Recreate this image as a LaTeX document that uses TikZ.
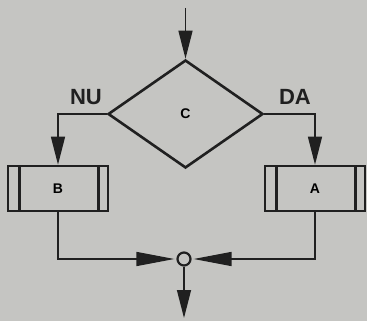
\documentclass[tikz,border=0pt]{standalone}
\usepackage{fontspec}
\setmainfont{Liberation Sans}
\usetikzlibrary{arrows.meta,shapes.geometric,positioning}
\definecolor{paper}{RGB}{197,197,194}
\definecolor{ink}{RGB}{32,32,32}

\tikzset{
  decision/.style={diamond, draw=ink, line width=2.6pt, inner sep=0pt,
    minimum width=155pt, minimum height=108pt,
    font=\bfseries\fontsize{14}{14}\selectfont},
  procbox/.style={rectangle, draw=ink, line width=2.6pt, inner sep=0pt,
    minimum width=100pt, minimum height=45pt,
    font=\bfseries\fontsize{14}{14}\selectfont,
    path picture={
      \draw[ink, line width=3pt]
        ([xshift=11pt]path picture bounding box.north west) --
        ([xshift=11pt]path picture bounding box.south west);
      \draw[ink, line width=3pt]
        ([xshift=-10pt]path picture bounding box.north east) --
        ([xshift=-10pt]path picture bounding box.south east);
    }},
  junction/.style={circle, draw=ink, line width=2.2pt, fill=paper,
    minimum size=13pt, inner sep=0pt},
  branchlbl/.style={text=ink, font=\bfseries\fontsize{22}{22}\selectfont},
  flow/.style={draw=ink, line width=1.4pt},
  tip/.style={-{Triangle[length=28pt,width=14pt]}},
  longtip/.style={-{Triangle[length=38pt,width=14pt]}, shorten >=2pt},
}

\begin{document}
\begin{tikzpicture}[x=1pt,y=-1pt]
\fill[paper] (0,0) rectangle (367,321);
\useasboundingbox (0,0) rectangle (367,321);

% decision and the two branches
\node[decision] (C) at (185.5,114) {C};
\node[procbox] (B) at (58,188.5) {B};
\node[procbox] (A) at (315,188.5) {A};
\node[junction] (J) at (184,259) {};
\node[branchlbl] (nu) at (86,97) {NU};
\node[branchlbl] (da) at (295,97) {DA};

\coordinate (in) at (185.5,8);
\coordinate (out) at (184,318);

% connectors
\draw[flow,tip] (in) -- (C.north);
\draw[flow,tip] (C.west) -| (B.north);
\draw[flow,tip] (C.east) -| (A.north);
\draw[flow,longtip] (B.south) |- (J.west);
\draw[flow,longtip] (A.south) |- (J.east);
\draw[flow,tip] (J.south) -- (out);
\end{tikzpicture}
\end{document}
